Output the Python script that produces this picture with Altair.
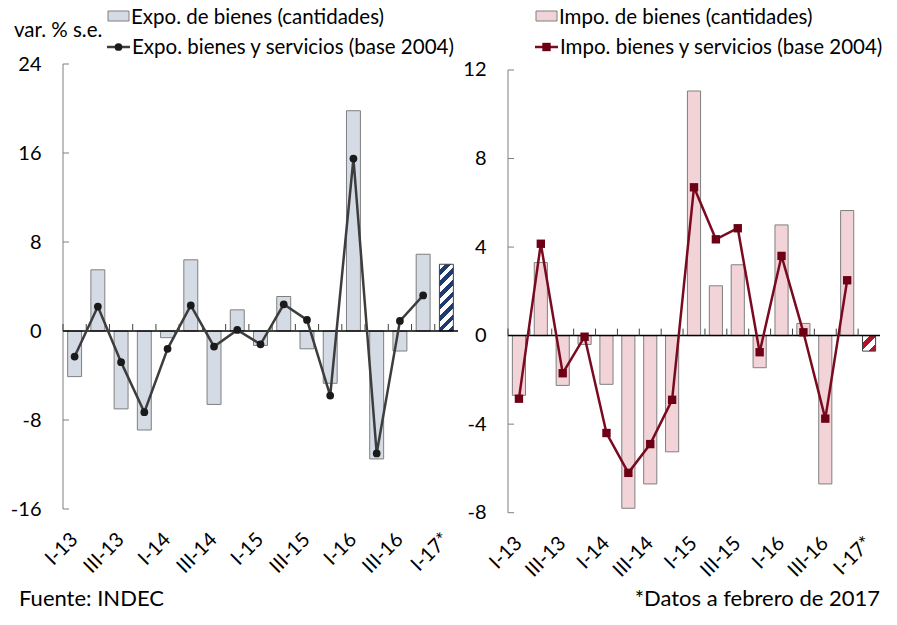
import altair as alt
import pandas as pd

# ---------------- data ----------------
quarters = ["I-13", "II-13", "III-13", "IV-13", "I-14", "II-14", "III-14", "IV-14",
            "I-15", "II-15", "III-15", "IV-15", "I-16", "II-16", "III-16", "IV-16", "I-17*"]
expo_bienes = [-4.1, 5.5, -7.0, -8.9, -0.6, 6.4, -6.6, 1.9, -1.3, 3.1, -1.6, -4.7,
               19.8, -11.5, -1.8, 6.9, 6.0]
expo_total = [-2.3, 2.2, -2.8, -7.3, -1.6, 2.3, -1.4, 0.1, -1.2, 2.4, 1.0, -5.8,
              15.5, -11.0, 0.9, 3.2, None]
impo_bienes = [-2.7, 3.3, -2.25, -0.4, -2.2, -7.8, -6.7, -5.25, 11.05, 2.25, 3.2, -1.45,
               5.0, 0.55, -6.7, 5.65, -0.7]
impo_total = [-2.85, 4.15, -1.7, -0.05, -4.4, -6.2, -4.9, -2.9, 6.7, 4.35, 4.85, -0.75,
              3.6, 0.15, -3.75, 2.5, None]
expo_ticks = [-16, -8, 0, 8, 16, 24]
impo_ticks = [-8, -4, 0, 4, 8, 12]
expo_legend = ["Expo. de bienes (cantidades)", "Expo. bienes y servicios (base 2004)"]
impo_legend = ["Impo. de bienes (cantidades)", "Impo. bienes y servicios (base 2004)"]
unit_label = "var. % s.e."
source_note = "Fuente: INDEC"
data_note = "*Datos a febrero de 2017"
shown_labels = [q for q in quarters if q.startswith("I-") or q.startswith("III-")]

FONT = "Lato"
FS = 20
FS_LEG = 20.5
FS_NOTE = 22
GRAY = "#7f7f7f"


def stripes(color, bw, h_px, period=11.5, frac=0.5):
    a = bw / h_px
    b = 1.0
    k = (a + b) / (a * a + b * b)
    n = max(1, round((bw + h_px) / period))
    stops = []
    for i in range(n):
        t0 = i / n
        t1 = (i + 1 - frac) / n
        t2 = (i + 1) / n
        stops += [alt.GradientStop(color="white", offset=t0),
                  alt.GradientStop(color="white", offset=t1),
                  alt.GradientStop(color=color, offset=t1),
                  alt.GradientStop(color=color, offset=t2)]
    return alt.LinearGradient(gradient="linear", stops=stops,
                              x1=0, y1=0, x2=a * k, y2=b * k)


def panel(bars, line, y_domain, y_ticks, width, height, bar_fill, hatch_color,
          line_color, point_color, point_shape, point_size, legend, lx, texts):
    n = len(quarters)
    step = width / n
    bw = step * 0.6
    ppu = height / (y_domain[1] - y_domain[0])
    df = pd.DataFrame({"q": quarters, "bienes": bars, "total": line,
                       "prelim": [False] * (n - 1) + [True]})
    one = pd.DataFrame({"k": [0]})
    xs = alt.Scale(domain=quarters, paddingInner=0.4, paddingOuter=0.2)
    ys = alt.Scale(domain=y_domain, nice=False, zero=False)
    label_list = "[" + ",".join("'%s'" % s for s in shown_labels) + "]"
    x_axis = alt.Axis(title=None, labelAngle=-45, labelAlign="right", labelBaseline="middle",
                      labelPadding=27, domain=False, ticks=False, grid=False,
                      labelOverlap=False, labelFont=FONT, labelFontSize=FS, labelColor="black",
                      labelExpr="indexof(%s, datum.value) >= 0 ? datum.value : ''" % label_list)
    y_axis = alt.Axis(title=None, values=y_ticks, domain=False, ticks=False, grid=False,
                      labelPadding=22, labelFont=FONT, labelFontSize=FS, labelColor="black",
                      labelExpr="'' + datum.value")

    def X():
        return alt.X("q:N", scale=xs, axis=x_axis)

    def Y(f):
        return alt.Y(f, type="quantitative", scale=ys, axis=y_axis)

    def YD(v):
        return alt.YDatum(v, scale=ys, axis=y_axis)

    bars_layer = alt.Chart(df).transform_filter("!datum.prelim").mark_bar(
        fill=bar_fill, stroke=GRAY, strokeWidth=1).encode(
        x=X(), y=Y("bienes"), y2=alt.Y2Datum(0))
    h_px = abs(bars[-1]) * ppu
    hatch_layer = alt.Chart(df).transform_filter("datum.prelim").mark_bar(
        fill=stripes(hatch_color, bw, h_px), stroke="#404040", strokeWidth=1).encode(
        x=X(), y=Y("bienes"), y2=alt.Y2Datum(0))
    yaxis_line = alt.Chart(one).mark_rule(color=GRAY, strokeWidth=1).encode(
        x=alt.value(0), y=YD(y_ticks[0]), y2=alt.Y2Datum(y_ticks[-1]))
    ytick_layer = alt.Chart(pd.DataFrame({"v": y_ticks})).mark_rule(
        color=GRAY, strokeWidth=1).encode(
        y=Y("v"), x=alt.value(0), x2=alt.value(6))
    zero_line = alt.Chart(one).mark_rule(color="black", strokeWidth=1.5).encode(
        y=YD(0), x=alt.value(0), x2=alt.value(width))
    xtick_layer = alt.Chart(df).mark_rule(color="#404040", strokeWidth=1,
                                          xOffset=-step / 2).encode(
        x=X(), y=YD(0), y2=alt.Y2Datum(7 / ppu))
    line_layer = alt.Chart(df).mark_line(color=line_color, strokeWidth=2.5).encode(
        x=X(), y=Y("total"))
    pts_layer = alt.Chart(df).mark_point(shape=point_shape, filled=True, opacity=1,
                                         size=point_size, color=point_color).encode(
        x=X(), y=Y("total"))

    leg_rect = alt.Chart(one).mark_rect(fill=bar_fill, stroke=GRAY, strokeWidth=1).encode(
        x=alt.value(lx), x2=alt.value(lx + 21), y=alt.value(-53), y2=alt.value(-43))
    leg_line = alt.Chart(one).mark_rule(color=line_color, strokeWidth=2.5).encode(
        x=alt.value(lx - 1), x2=alt.value(lx + 22), y=alt.value(-17))
    leg_pt = alt.Chart(one).mark_point(shape=point_shape, filled=True, opacity=1,
                                       size=point_size, color=point_color).encode(
        x=alt.value(lx + 10.5), y=alt.value(-17))
    leg_t1 = alt.Chart(one).mark_text(align="left", baseline="alphabetic", font=FONT,
                                      fontSize=FS_LEG, color="black").encode(
        x=alt.value(lx + 23), y=alt.value(-40.5), text=alt.value(legend[0]))
    leg_t2 = alt.Chart(one).mark_text(align="left", baseline="alphabetic", font=FONT,
                                      fontSize=FS_LEG, color="black").encode(
        x=alt.value(lx + 24), y=alt.value(-10.5), text=alt.value(legend[1]))
    layers = [bars_layer, hatch_layer, yaxis_line, ytick_layer, zero_line, xtick_layer,
              line_layer, pts_layer, leg_rect, leg_line, leg_pt, leg_t1, leg_t2]
    for (tx, ty, al, fs, s) in texts:
        layers.append(alt.Chart(one).mark_text(align=al, baseline="alphabetic", font=FONT,
                                               fontSize=fs, color="black").encode(
            x=alt.value(tx), y=alt.value(ty), text=alt.value(s)))
    return alt.layer(*layers).properties(width=width, height=height)


left = panel(expo_bienes, expo_total, [-16, 24], expo_ticks, 395, 445,
             "#d5dbe5", "#1f3a6e", "#3d3d3d", "#1a1a1a", "circle", 60,
             expo_legend, 45,
             [(-49, -27.5, "left", FS_LEG, unit_label),
              (-44, 542, "left", FS_NOTE, source_note)])
right = panel(impo_bienes, impo_total, [-8, 12.27], impo_ticks, 372, 448.7,
              "#f2d4d8", "#b0132b", "#7a0a1f", "#6e0015", "square", 70,
              impo_legend, 28,
              [(372, 542, "right", FS_NOTE, data_note)])

chart = alt.hconcat(left, right, spacing=50, bounds="flush").properties(
    padding={"left": 1, "top": -1, "right": 0, "bottom": 0}
).configure_view(stroke="transparent")

chart.save("out.html", embed_options={"renderer": "svg", "actions": False})
